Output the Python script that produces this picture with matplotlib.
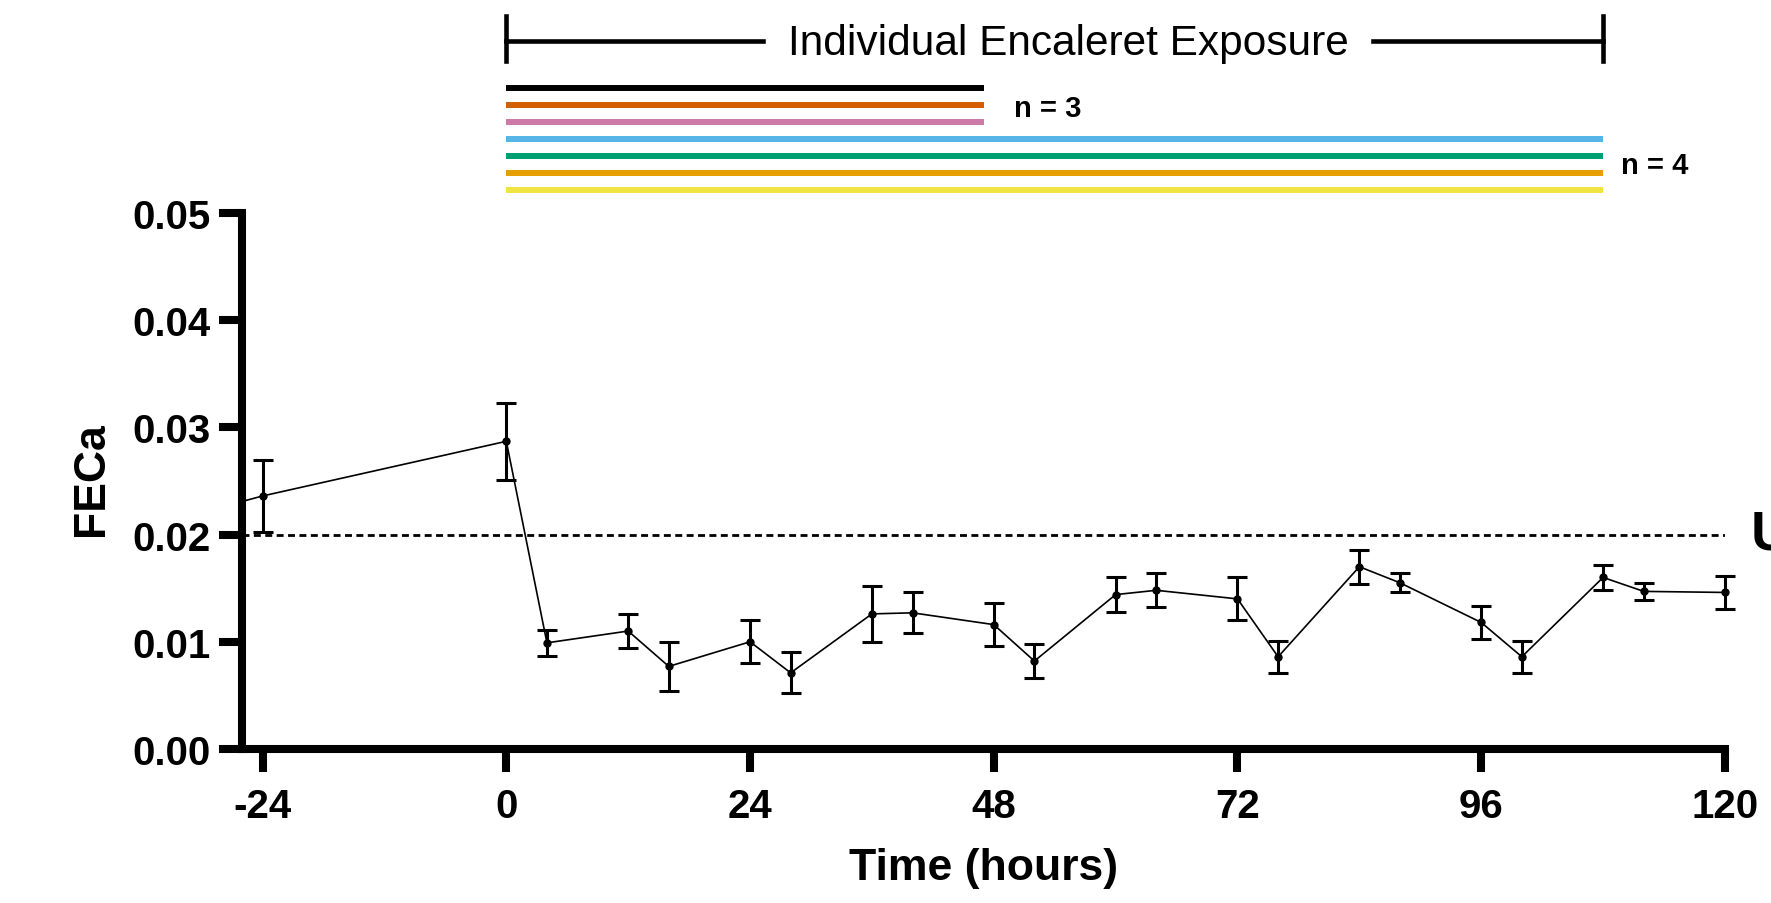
import matplotlib
matplotlib.use("Agg")
import matplotlib.pyplot as plt

plt.rcParams["font.family"] = ["Liberation Sans", "DejaVu Sans"]

# FECa over time (mean +/- SEM)
hours = [-48, -24, 0, 4, 12, 16, 24, 28, 36, 40, 48, 52, 60, 64, 72, 76,
         84, 88, 96, 100, 108, 112, 120]
feca = [0.0175, 0.0236, 0.0287, 0.0099, 0.0110, 0.0077, 0.0100, 0.0071,
        0.0126, 0.0127, 0.0116, 0.0082, 0.0144, 0.0148, 0.0140, 0.0086,
        0.0170, 0.0155, 0.0118, 0.0086, 0.0160, 0.0147, 0.0146]
sem = [0.0030, 0.0034, 0.0036, 0.0012, 0.0016, 0.0023, 0.0020, 0.0019,
       0.0026, 0.0019, 0.0020, 0.0016, 0.0016, 0.0016, 0.0020, 0.0015,
       0.0016, 0.0009, 0.0015, 0.0015, 0.0012, 0.0008, 0.0015]

uln = 0.02
x_ticks = [-24, 0, 24, 48, 72, 96, 120]
y_ticks = [0.00, 0.01, 0.02, 0.03, 0.04, 0.05]

# individual exposure windows (hours from start)
exposure_end = [47, 47, 47, 108, 108, 108, 108]
exposure_colors = ["#000000", "#D55E00", "#CC79A7", "#56B4E9",
                   "#009E73", "#E69F00", "#F0E442"]
bracket_span = (0, 108)

fig = plt.figure(figsize=(17.71, 9.04), dpi=100)
ax = fig.add_axes([0.1368, 0.1704, 0.8372, 0.5929])

# lead-in segment that runs off the left edge
ax.plot(hours[:2], feca[:2], color="black", lw=1.2)
ax.errorbar(hours[1:], feca[1:], yerr=sem[1:], color="black", lw=1.2,
            marker="o", ms=5, elinewidth=2.2, capsize=7, capthick=2.2,
            clip_on=False, zorder=3)

ax.axhline(uln, xmin=0, xmax=1, color="black", lw=2,
           linestyle=(0, (2.5, 1.6)))
ax.text(122.5, uln, "ULN", fontsize=40, fontweight="bold",
        va="center", ha="left", clip_on=False)

ax.set_xlim(-26, 120)
ax.set_ylim(0, 0.05)
ax.set_xticks(x_ticks)
ax.set_yticks(y_ticks)
ax.set_xticklabels([str(t) for t in x_ticks])
ax.set_yticklabels([f"{t:.2f}" for t in y_ticks])

for side in ["top", "right"]:
    ax.spines[side].set_visible(False)
for side in ["left", "bottom"]:
    ax.spines[side].set_linewidth(5.8)
    ax.spines[side].set_capstyle("projecting")
ax.tick_params(width=5.8, length=16.5, labelsize=29, pad=6)
ax.tick_params(axis="x", pad=11)
for lab in ax.get_xticklabels() + ax.get_yticklabels():
    lab.set_fontweight("bold")

ax.set_xlabel("Time (hours)", fontsize=32, fontweight="bold")
ax.set_ylabel("FECa", fontsize=32, fontweight="bold")
ax.xaxis.set_label_coords(0.5, -0.183)
ax.yaxis.set_label_coords(-0.088, 0.505)

# exposure annotation above the plot
tr = ax.get_xaxis_transform()
y_br = 1.321
ax.plot([bracket_span[0], 25.3], [y_br, y_br], color="black", lw=3.3,
        transform=tr, clip_on=False)
ax.plot([85.3, bracket_span[1]], [y_br, y_br], color="black", lw=3.3,
        transform=tr, clip_on=False)
for xb in bracket_span:
    ax.plot([xb, xb], [1.284, 1.368], color="black", lw=3.3,
            transform=tr, clip_on=False)
ax.text(55.3, 1.317, "Individual Encaleret Exposure", fontsize=30.5,
        ha="center", va="center", transform=tr)

y0, dy = 1.233, 0.0317
for i, (end, col) in enumerate(zip(exposure_end, exposure_colors)):
    y = y0 - i * dy
    ax.plot([0, end], [y, y], color=col, lw=4.3, solid_capstyle="butt",
            transform=tr, clip_on=False)
ax.text(50, 1.196, "n = 3", fontsize=21, fontweight="bold",
        ha="left", va="center", transform=tr)
ax.text(109.8, 1.089, "n = 4", fontsize=21, fontweight="bold",
        ha="left", va="center", transform=tr)

fig.savefig("out.png", dpi=100)
